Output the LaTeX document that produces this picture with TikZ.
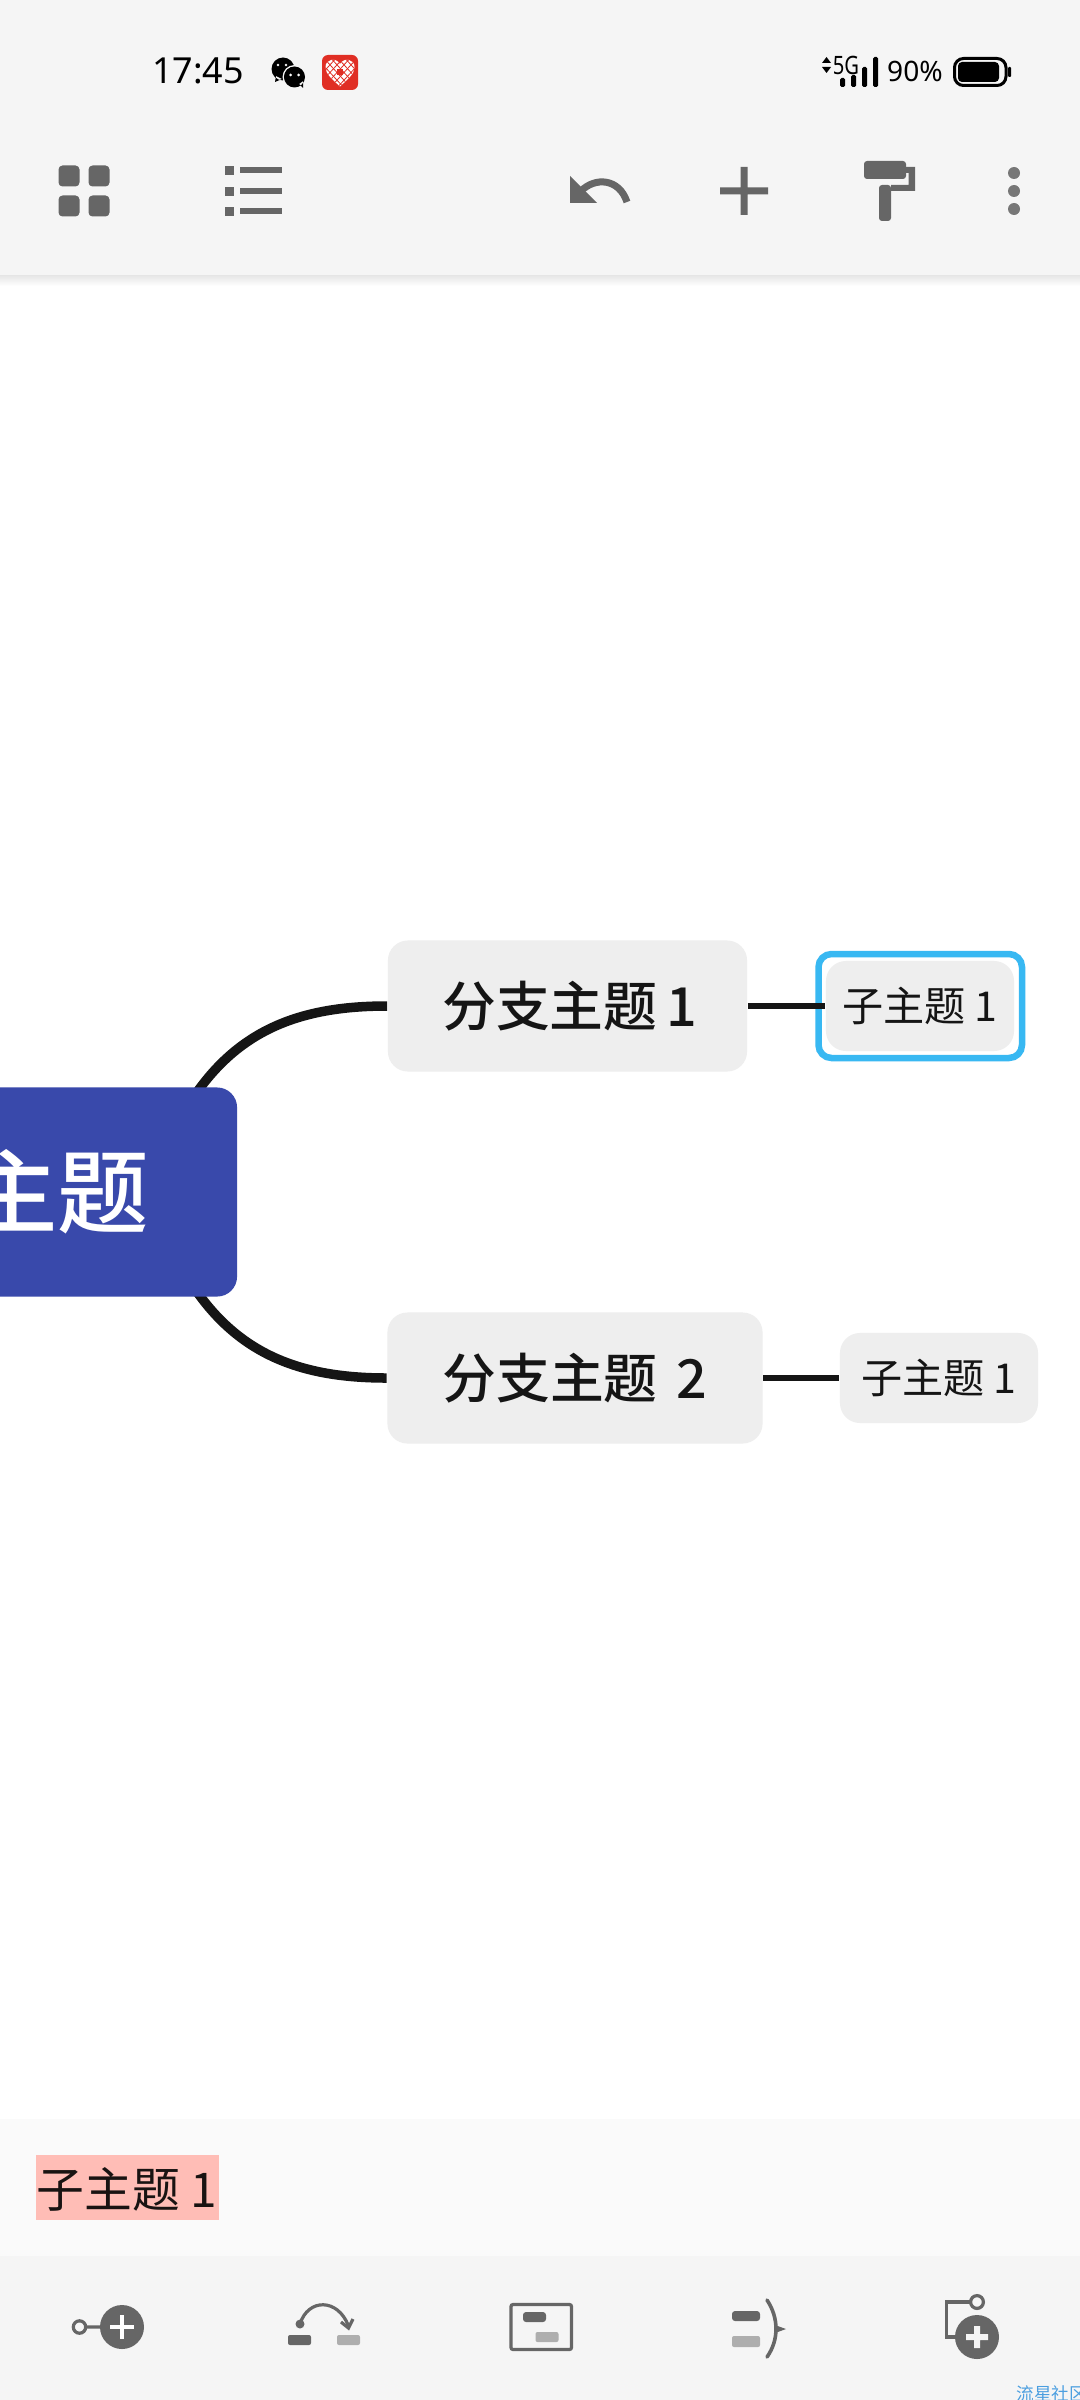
\documentclass[tikz,border=0pt]{standalone}
\usepackage{fontspec}
\setmainfont{Noto Sans CJK SC}
\newfontfamily\latinfont{Noto Sans}
\newfontfamily\medfont{Noto Sans CJK SC Medium}
\usetikzlibrary{arrows.meta}
\newcommand{\px}{0.2845pt}
\newcommand{\heartpath}{(340,86.5) .. controls (332,79) and (325.5,74) .. (325.5,67)
    .. controls (325.5,59) and (336,57) .. (340,64)
    .. controls (344,57) and (354.5,59) .. (354.5,67)
    .. controls (354.5,74) and (348,79) .. (340,86.5) -- cycle}
\definecolor{barbg}{HTML}{F5F5F5}
\definecolor{panelbg}{HTML}{FAFAFA}
\definecolor{boxbg}{HTML}{EEEEEE}
\definecolor{rootblue}{HTML}{3949AB}
\definecolor{selblue}{HTML}{38B8F2}
\definecolor{icongray}{HTML}{666666}
\definecolor{iconlight}{HTML}{AEAEAE}
\definecolor{dotgray}{HTML}{777777}
\definecolor{linkblack}{HTML}{151515}
\definecolor{marked}{HTML}{FFBDB6}
\definecolor{pddred}{HTML}{E02E24}
\definecolor{markblue}{HTML}{4C9FE0}
\tikzset{
  rootbox/.style={fill=rootblue, text=white, rounded corners=20*\px, inner sep=0pt,
    font=\medfont\fontsize{26}{30}\selectfont},
  branchbox/.style={fill=boxbg, text=linkblack, rounded corners=20*\px, inner sep=0pt,
    minimum height=131*\px, font=\medfont\fontsize{15.3}{18}\selectfont},
  subbox/.style={fill=boxbg, text=linkblack, rounded corners=20*\px, inner sep=0pt,
    minimum height=90*\px, font=\fontsize{11.7}{14}\selectfont},
  biglink/.style={draw=linkblack, line width=9.5*\px},
  smalllink/.style={draw=linkblack, line width=6.5*\px},
  iconline/.style={draw=icongray, line width=3.2*\px},
  iconfill/.style={fill=icongray},
  lightfill/.style={fill=iconlight}
}
\begin{document}
\begin{tikzpicture}[x=0.01cm, y=-0.01cm]
  \useasboundingbox (0,0) rectangle (1080,2400);
  \fill[white] (0,0) rectangle (1080,2400);

  \fill[barbg] (0,0) rectangle (1080,275);
  \shade[top color=black!10, bottom color=white] (0,275) rectangle (1080,286);
  \fill[panelbg] (0,2119) rectangle (1080,2256);
  \fill[barbg] (0,2256) rectangle (1080,2400);

  \node[text=black, font=\latinfont\fontsize{10.2}{12}\selectfont] (clock) at (198,71) {17:45};
  \fill[black] (283,69) circle (11.5) (276,76) -- (275,82) -- (282,79) -- cycle;
  \draw[barbg, line width=1.5*\px] (294.5,77) circle (11.2);
  \fill[black] (294.5,77) circle (10.5) (299,84) -- (303,88) -- (303,81) -- cycle;
  \fill[barbg] (278,65) circle (1.4) (286,65) circle (1.4);
  \fill[white] (290.5,75) circle (1.5) (298.5,75) circle (1.5);
  \fill[pddred, rounded corners=6*\px] (322,55) rectangle (358,90);
  \fill[white] \heartpath;
  \begin{scope}
    \clip \heartpath;
    \foreach \xa in {300,307,...,370}{
      \draw[pddred, line width=0.8*\px] (\xa,55) -- (\xa+32,90);
      \draw[pddred, line width=0.8*\px] (\xa+32,55) -- (\xa,90);
    }
  \end{scope}
  \fill[pddred] (337,69) rectangle (343,75);

  \fill[black] (826.5,57) -- (831,63) -- (822,63) -- cycle (826.5,73) -- (831,67) -- (822,67) -- cycle;
  \node[text=black, font=\latinfont\fontsize{7.2}{8}\selectfont, xscale=0.8, inner sep=0pt] (netlabel) at (846,65) {5G};
  \foreach \xa/\ya in {840/78, 851/75, 862/67, 873/57}
    \fill[black, rounded corners=1.5*\px] (\xa,\ya) rectangle ++(5,87-\ya);
  \node[text=black, font=\latinfont\fontsize{8}{10}\selectfont, inner sep=0pt] (level) at (915,71) {90\%};
  \draw[black, line width=3*\px, rounded corners=9*\px] (954.5,58.5) rectangle (1006,85.5);
  \fill[black, rounded corners=4*\px] (958,62) rectangle (999,82);
  \fill[black, rounded corners=1*\px] (1008,67) rectangle (1011,77);

  \foreach \xa in {58.5,88.5}
    \foreach \ya in {165.5,195.5}
      \fill[iconfill, rounded corners=4*\px] (\xa,\ya) rectangle ++(21,21);
  \foreach \ya in {166,187,207}{
    \fill[iconfill] (225,\ya) rectangle ++(9,9);
    \fill[iconfill] (240,\ya+1) rectangle ++(42,6);
  }

  \fill[iconfill] (570,176) -- (570,203) -- (597,203) -- cycle;
  \draw[icongray, line width=7*\px] (581,191) .. controls (595,177) and (619,178) .. (627,202);
  \fill[iconfill] (720,187.5) rectangle (768,194.5) (740.5,167) rectangle (747.5,215);
  \fill[iconfill, rounded corners=3*\px] (864,161) rectangle (906,179);
  \fill[iconfill] (906,167) -- (915,167) -- (915,191) -- (891,191) -- (891,185) -- (908.5,185) -- (908.5,173) -- (906,173) -- cycle;
  \fill[iconfill, rounded corners=3*\px] (879,185) rectangle (891,221);
  \foreach \ya in {173,191,209}
    \fill[dotgray] (1014,\ya) circle (6);

  \coordinate (rootA) at (195,1095);
  \coordinate (rootB) at (195,1289);
  \node[branchbox, minimum width=359*\px] (branchA) at (567.5,1006) {\hspace*{1.2pt}分支主题\hspace{2.5pt}1};
  \node[branchbox, minimum width=375*\px] (branchB) at (575,1378) {分支主题\hspace{5.5pt}2};
  \node[subbox, minimum width=188*\px] (subA) at (920,1006) {子主题 1};
  \node[subbox, minimum width=198*\px] (subB) at (939,1378) {子主题 1\hspace{1.4pt}};
  \draw[biglink] (rootA) .. controls (240,1030) and (300,1006) .. (branchA.west);
  \draw[biglink] (rootB) .. controls (240,1354) and (300,1378) .. (branchB.west);
  \node[rootbox, minimum width=358*\px, minimum height=209*\px] (root) at (58,1192) {主题};
  \draw[selblue, line width=6.5*\px, rounded corners=13*\px] (818.5,954) rectangle (1022,1058);
  \draw[smalllink] (branchA.east) -- (subA.west);
  \draw[smalllink] (branchB.east) -- (subB.west);

  \fill[marked] (36,2155) rectangle (219,2220);
  \node[text=marked!10!black, font=\fontsize{13.6}{16}\selectfont, inner sep=0pt] (memo) at (127,2189) {子主题 1};

  \draw[iconline] (79.5,2327) circle (6.2) (86,2327) -- (100,2327);
  \fill[iconfill] (122,2327) circle (22);
  \draw[white, line width=3.5*\px] (110,2327) -- (134,2327) (122,2315) -- (122,2339);

  \fill[iconfill] (300,2324) circle (4.5);
  \draw[iconline] (300,2324) .. controls (308,2298) and (338,2298) .. (348.5,2326);
  \draw[iconline] (341,2322) -- (348.5,2328) -- (353,2319);
  \fill[iconfill, rounded corners=2*\px] (288,2335) rectangle (311,2345);
  \fill[lightfill, rounded corners=2*\px] (337,2335) rectangle (360,2345);

  \draw[iconline, rounded corners=2*\px] (511,2304.5) rectangle (571.5,2349.5);
  \fill[iconfill, rounded corners=3*\px] (523,2312) rectangle (546,2322);
  \fill[lightfill, rounded corners=2*\px] (535.5,2332) rectangle (558.5,2342);

  \fill[iconfill, rounded corners=3*\px] (732,2311) rectangle (760,2321);
  \fill[lightfill, rounded corners=2*\px] (732,2336) rectangle (760,2347);
  \draw[icongray, line width=3.6*\px, line cap=round] (767,2300) .. controls (779,2318) and (779,2340) .. (767,2357);
  \fill[iconfill] (775,2325) -- (786,2329) -- (775,2333) -- cycle;

  \draw[iconline] (970,2302) -- (946.5,2302) -- (946.5,2337) -- (960,2337);
  \draw[iconline] (977,2302) circle (6.4);
  \fill[iconfill] (977,2337) circle (22);
  \fill[barbg] (966,2334) rectangle (988,2340) (974,2326) rectangle (980,2348);

  \node[anchor=west, text=markblue, font=\fontsize{5}{6}\selectfont, inner sep=0pt] (mark) at (1016,2394) {流星社区};
\end{tikzpicture}
\end{document}
